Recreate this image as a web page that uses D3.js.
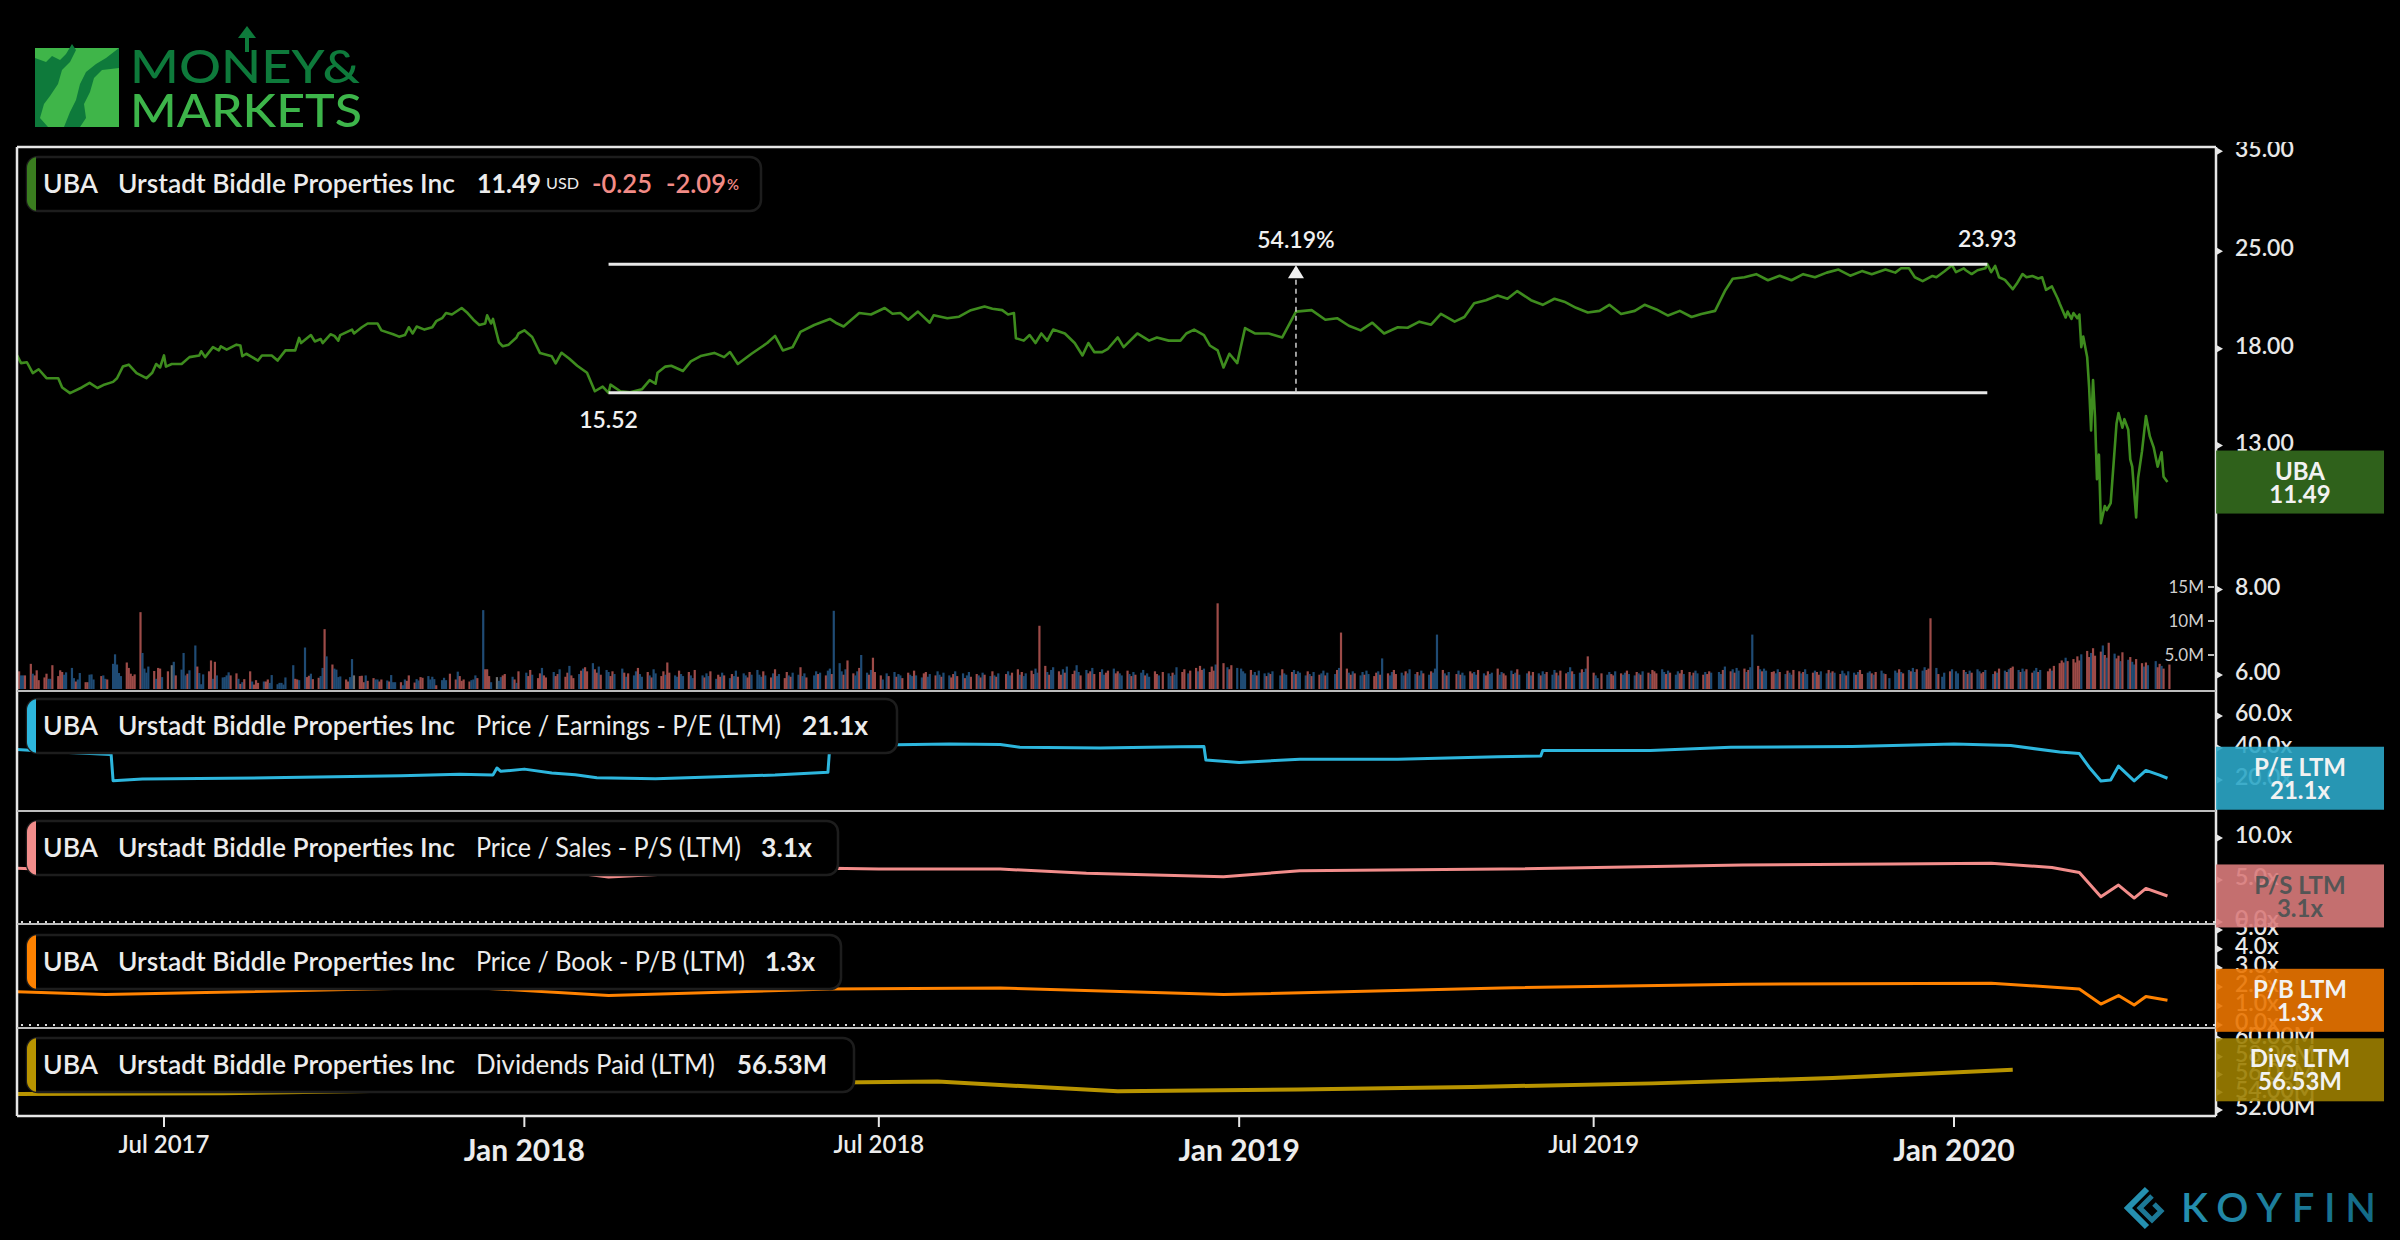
<!DOCTYPE html>
<html><head><meta charset="utf-8">
<script src="https://cdn.jsdelivr.net/npm/d3@7"></script>
<style>
html,body{margin:0;padding:0;background:#000;}
svg{display:block;}
text{font-family:Lato,"Open Sans",sans-serif;}
</style></head>
<body>
<svg id="chart" width="2400" height="1240"></svg>
<script>
// ---------------- DATA ----------------
const pricePoints = [
["2017-04-17",17.61],["2017-04-19",17.15],["2017-04-22",17.2],["2017-04-25",16.58],["2017-04-28",16.8],["2017-05-02",16.3],["2017-05-08",16.3],["2017-05-10",15.8],["2017-05-14",15.5],["2017-05-20",15.8],["2017-05-24",16.05],["2017-05-28",15.77],["2017-05-31",15.93],["2017-06-05",16.1],["2017-06-07",16.3],["2017-06-10",16.95],["2017-06-13",17.06],["2017-06-17",16.58],["2017-06-22",16.3],["2017-06-25",16.6],["2017-06-27",17.1],["2017-06-29",16.9],["2017-07-01",17.6],["2017-07-02",16.95],["2017-07-05",17.1],["2017-07-10",17.1],["2017-07-14",17.5],["2017-07-19",17.6],["2017-07-20",17.85],["2017-07-22",17.5],["2017-07-26",18.1],["2017-07-29",17.9],["2017-07-30",18.15],["2017-08-02",17.95],["2017-08-07",18.25],["2017-08-09",18.2],["2017-08-10",17.55],["2017-08-12",17.7],["2017-08-15",17.5],["2017-08-18",17.3],["2017-08-20",17.6],["2017-08-25",17.6],["2017-08-28",17.3],["2017-09-01",17.9],["2017-09-06",17.9],["2017-09-08",18.67],["2017-09-09",18.35],["2017-09-14",18.85],["2017-09-16",18.45],["2017-09-19",18.6],["2017-09-20",18.35],["2017-09-24",18.9],["2017-09-26",18.8],["2017-09-28",18.5],["2017-09-29",18.85],["2017-10-05",19.2],["2017-10-06",18.95],["2017-10-10",19.35],["2017-10-13",19.6],["2017-10-18",19.6],["2017-10-20",19.15],["2017-10-26",18.9],["2017-10-29",18.75],["2017-11-01",18.85],["2017-11-03",19.35],["2017-11-05",18.95],["2017-11-07",19.4],["2017-11-11",19.2],["2017-11-15",19.35],["2017-11-17",19.75],["2017-11-20",19.95],["2017-11-22",20.3],["2017-11-25",20.2],["2017-11-30",20.65],["2017-12-03",20.3],["2017-12-06",19.85],["2017-12-09",19.5],["2017-12-12",19.6],["2017-12-13",20.15],["2017-12-15",19.6],["2017-12-16",19.9],["2017-12-19",18.4],["2017-12-21",18.15],["2017-12-24",18.25],["2017-12-28",18.7],["2017-12-29",18.95],
["2018-01-01",19.15],["2018-01-05",18.73],["2018-01-09",17.74],["2018-01-15",17.55],["2018-01-17",17.13],["2018-01-20",17.76],["2018-01-24",17.4],["2018-01-28",17.0],["2018-02-02",16.6],["2018-02-06",15.6],["2018-02-10",15.85],["2018-02-13",15.52],["2018-02-14",15.95],["2018-02-19",15.6],["2018-02-24",15.55],["2018-03-02",15.7],["2018-03-06",16.2],["2018-03-09",16.0],["2018-03-10",16.6],["2018-03-14",16.95],["2018-03-17",17.0],["2018-03-23",16.7],["2018-03-27",17.25],["2018-04-01",17.56],["2018-04-08",17.75],["2018-04-13",17.5],["2018-04-16",17.8],["2018-04-20",17.1],["2018-04-27",17.7],["2018-05-05",18.35],["2018-05-09",18.8],["2018-05-13",17.9],["2018-05-18",18.1],["2018-05-22",19.05],["2018-05-29",19.5],["2018-06-06",19.9],["2018-06-09",19.65],["2018-06-13",19.4],["2018-06-21",20.3],["2018-06-27",20.2],["2018-07-04",20.65],["2018-07-08",20.25],["2018-07-12",20.3],["2018-07-16",19.85],["2018-07-21",20.4],["2018-07-27",19.65],["2018-07-29",20.15],["2018-08-05",19.95],["2018-08-11",20.05],["2018-08-17",20.5],["2018-08-24",20.75],["2018-08-28",20.6],["2018-09-02",20.5],["2018-09-05",20.2],["2018-09-08",20.3],["2018-09-09",18.65],["2018-09-13",18.5],["2018-09-16",18.85],["2018-09-19",18.35],["2018-09-22",18.95],["2018-09-25",18.5],["2018-09-28",19.2],["2018-10-04",18.95],["2018-10-09",18.35],["2018-10-13",17.6],["2018-10-16",18.35],["2018-10-19",17.8],["2018-10-23",17.8],["2018-10-26",18.0],["2018-10-31",18.7],["2018-11-03",18.1],["2018-11-10",18.95],["2018-11-16",18.5],["2018-11-20",18.7],["2018-11-26",18.5],["2018-12-02",18.5],["2018-12-05",18.95],["2018-12-09",19.2],["2018-12-14",18.85],["2018-12-17",18.2],["2018-12-21",17.9],["2018-12-24",16.9],["2018-12-27",17.7],["2018-12-31",17.15],
["2019-01-04",19.3],["2019-01-09",18.95],["2019-01-16",18.95],["2019-01-23",18.7],["2019-01-30",20.4],["2019-02-07",20.5],["2019-02-14",19.85],["2019-02-20",19.95],["2019-02-26",19.45],["2019-03-04",19.15],["2019-03-10",19.65],["2019-03-16",18.95],["2019-03-23",19.35],["2019-03-28",19.32],["2019-04-03",19.72],["2019-04-09",19.52],["2019-04-14",20.24],["2019-04-21",19.72],["2019-04-26",20.03],["2019-05-01",20.98],["2019-05-07",21.2],["2019-05-13",21.53],["2019-05-18",21.3],["2019-05-23",21.86],["2019-05-30",21.2],["2019-06-05",20.87],["2019-06-11",21.3],["2019-06-16",21.09],["2019-06-22",20.66],["2019-06-28",20.34],["2019-07-04",20.45],["2019-07-09",20.87],["2019-07-15",20.24],["2019-07-22",20.45],["2019-07-27",20.87],["2019-08-02",20.55],["2019-08-08",20.13],["2019-08-14",20.45],["2019-08-20",20.03],["2019-08-25",20.24],["2019-09-01",20.45],["2019-09-06",21.86],["2019-09-10",22.78],["2019-09-16",22.9],["2019-09-22",23.14],["2019-09-28",22.67],["2019-10-04",23.02],["2019-10-10",22.67],["2019-10-16",23.14],["2019-10-22",22.9],["2019-10-28",23.26],["2019-11-03",23.5],["2019-11-09",23.02],["2019-11-15",23.38],["2019-11-20",23.14],["2019-11-27",23.5],["2019-12-02",23.26],["2019-12-05",23.61],["2019-12-09",23.6],["2019-12-12",22.9],["2019-12-16",22.6],["2019-12-21",23.0],["2019-12-23",22.9],["2019-12-27",23.35],["2019-12-31",23.85],
["2020-01-02",23.3],["2020-01-06",23.6],["2020-01-07",23.45],["2020-01-10",23.15],["2020-01-13",23.45],["2020-01-17",23.6],["2020-01-18",23.93],["2020-01-20",23.3],["2020-01-22",23.8],["2020-01-24",22.9],["2020-01-27",22.7],["2020-01-31",22.0],["2020-02-02",22.4],["2020-02-05",23.15],["2020-02-07",22.9],["2020-02-10",23.0],["2020-02-13",22.8],["2020-02-15",22.9],["2020-02-17",21.95],["2020-02-20",22.2],["2020-02-23",21.3],["2020-02-24",20.95],["2020-02-27",20.0],["2020-02-28",20.4],["2020-03-01",19.9],["2020-03-02",20.3],["2020-03-04",19.95],["2020-03-05",20.2],["2020-03-06",18.1],["2020-03-07",18.75],["2020-03-09",17.5],["2020-03-10",15.8],["2020-03-11",13.67],["2020-03-12",16.2],["2020-03-13",14.3],["2020-03-14",11.6],["2020-03-15",12.6],["2020-03-16",10.0],["2020-03-18",10.6],["2020-03-19",10.45],["2020-03-21",10.7],["2020-03-24",14.0],["2020-03-25",14.5],["2020-03-27",13.8],["2020-03-28",14.2],["2020-03-30",13.7],["2020-03-31",12.4],["2020-04-01",12.1],["2020-04-03",10.2],["2020-04-04",11.65],["2020-04-06",12.75],["2020-04-08",14.35],["2020-04-10",13.4],["2020-04-12",12.9],["2020-04-14",12.1],["2020-04-16",12.7],["2020-04-17",11.7],["2020-04-19",11.49]
];

// market holidays (no volume bar)
const marketHolidays = ["2017-05-29","2017-07-04","2017-09-04","2017-11-23","2017-12-25","2018-01-01","2018-01-15","2018-02-19","2018-03-30","2018-05-28","2018-07-04","2018-09-03","2018-11-22","2018-12-05","2018-12-25","2019-01-01","2019-01-21","2019-02-18","2019-04-19","2019-05-27","2019-07-04","2019-09-02","2019-11-28","2019-12-25","2020-01-01","2020-01-20","2020-02-17","2020-04-10"];

// daily volume (millions), trading days from 2017-04-17
const volume2017 = [2.25,2.6,2.0,2.0,2.0,3.7,2.25,2.0,2.75,1.3,1.7,2.25,1.5,1.5,3.5,1.9,2.75,2.5,2.1,2.45,3.1,1.6,1.1,1.4,2.35,1.0,1.0,2.1,2.15,1.4,1.9,2.0,1.5,1.4,3.7,5.1,3.6,2.35,1.9,3.9,3.1,2.25,1.9,2.15,11.3,5.3,3.0,2.4,3.3,2.65,1.5,3.1,3.0,1.75,2.6,3.5,4.0,2.0,2.85,5.3,2.0,2.25,2.75,6.4,3.3,2.35,0.7,2.15,2.6,4.2,1.5,4.0,2.0,1.7,1.75,2.0,2.45,2.0,2.3,1.5,0.75,1.0,1.45,2.6,1.1,0.65,1.3,0.9,1.1,1.1,1.4,0.9,2.05,0.7,0.9,0.9,0.65,1.7,3.5,1.5,1.4,1.3,6.1,1.75,1.95,2.25,1.45,1.65,1.9,3.1,8.8,4.8,3.6,3.0,2.85,1.75,1.85,1.4,1.1,1.75,4.4,2.0,1.9,1.95,1.0,2.0,1.2,1.6,1.4,1.4,1.1,1.4,1.25,1.1,2.05,1.0,1.0,1.0,0.55,1.4,1.2,2.0,0.95,1.45,1.25,1.75,1.65,1.9,1.4,1.8,1.45,0.55,1.3,1.65,1.3,2.25,1.4,2.55,1.9,1.2,1.4,1.1,1.3,1.4,2.0,1.6,11.6,2.9,2.9,1.9,1.0,1.75,1.2,1.75,2.0,2.2,1.8,1.4,0.9,2.6];
const volume2018 = [2.4,1.9,2.8,2.1,1.6,2.3,3.1,2.0,1.7,2.5,1.9,2.2,2.9,1.8,2.4,3.4,2.0,1.6,2.2,2.7,3.0,
3.2,2.6,3.8,2.9,2.4,3.3,2.1,2.8,2.5,1.9,2.6,2.2,3.0,2.4,1.8,2.3,2.0,2.6,3.1,
2.2,1.8,2.5,2.0,1.7,2.9,2.3,1.9,2.6,2.1,3.9,2.4,2.0,1.8,2.7,2.2,1.9,2.5,2.0,1.6,2.8,
2.0,1.7,2.3,1.9,2.6,1.5,2.1,1.8,2.4,2.0,1.6,2.2,1.9,2.7,1.8,2.3,2.0,1.7,2.5,2.1,2.8,
2.1,1.8,2.6,2.0,1.7,2.3,2.9,1.9,2.2,1.6,2.5,2.0,1.8,2.4,2.1,3.2,1.9,2.3,1.7,2.0,2.6,2.2,
2.4,2.0,2.7,3.0,2.2,11.5,3.8,2.6,2.1,2.9,4.2,2.3,2.0,2.6,3.1,5.0,2.4,2.1,2.8,4.6,2.5,
2.0,1.4,2.3,1.9,2.5,1.8,2.2,2.0,1.6,2.4,2.1,1.9,2.7,2.0,1.7,2.3,2.5,1.8,2.2,2.0,2.6,
2.1,1.8,2.4,2.0,1.7,2.2,2.6,1.9,2.3,1.6,2.0,2.5,1.8,2.2,2.0,1.7,2.4,2.1,1.9,2.6,2.0,1.8,2.3,
2.2,2.6,2.0,2.4,2.9,2.1,2.5,1.9,2.3,2.7,2.2,3.0,2.4,9.3,3.4,2.5,2.1,2.8,3.2,
2.6,2.1,2.9,2.4,3.3,2.2,2.7,3.5,2.5,2.0,2.8,2.3,2.6,3.1,2.2,2.5,2.9,2.1,2.4,2.7,3.0,2.3,2.6,
2.3,2.0,2.7,2.2,1.9,2.5,2.1,2.4,2.8,2.0,2.3,1.8,2.6,2.2,2.0,2.5,2.3,1.9,2.4,2.1,3.2,
2.5,2.9,2.3,2.7,3.1,2.6,3.4,2.8,3.0,2.5,3.3,2.7,3.6,12.6,3.8,3.2,2.9,3.5,3.1];
const volume2019 = [3.0,2.6,2.3,2.8,2.1,2.5,2.0,2.7,2.3,1.9,2.4,2.2,2.6,2.0,2.9,2.3,2.1,2.5,2.8,2.2,2.6,
2.4,2.0,2.6,2.2,1.9,2.5,2.1,2.3,2.7,2.0,2.4,2.2,2.8,3.1,8.3,3.0,2.4,2.1,2.6,
2.3,2.0,2.5,2.1,2.7,2.2,1.9,2.4,2.6,2.1,4.5,2.3,2.0,2.5,2.8,2.2,2.4,2.0,2.6,2.3,2.9,
2.2,2.5,2.0,2.7,2.3,2.1,2.6,2.4,3.0,8.0,2.8,2.3,2.0,2.5,2.2,2.7,2.1,2.4,2.0,2.6,2.3,
2.5,2.1,2.8,2.3,2.0,2.6,2.2,2.4,3.0,2.1,2.5,2.3,2.0,2.7,2.2,2.4,2.9,2.1,2.3,2.6,2.0,2.5,
2.3,2.0,2.6,2.2,2.5,2.1,2.8,2.4,2.0,2.7,2.3,2.5,3.2,2.6,2.2,2.4,2.9,2.5,3.0,4.8,
2.4,2.0,1.6,2.3,2.1,2.5,2.2,2.0,2.6,2.3,2.1,2.4,2.7,2.2,2.0,2.5,2.3,2.1,2.6,2.4,2.2,2.8,
2.6,2.3,2.9,2.5,2.2,2.7,2.4,2.1,2.6,2.3,2.8,2.2,2.5,2.0,2.4,2.7,2.3,2.1,2.5,2.2,2.6,2.4,
2.5,2.2,2.8,3.3,2.6,2.9,2.4,3.1,2.7,3.0,2.5,2.8,3.2,8.0,3.4,2.9,2.6,3.0,2.7,2.5,
2.6,2.3,2.9,2.5,2.2,2.7,2.4,2.1,2.8,2.6,2.3,2.5,2.9,2.2,2.4,2.7,2.5,2.1,2.6,2.3,2.8,2.4,2.6,
2.4,2.2,2.7,2.3,2.0,2.6,2.4,2.1,2.5,2.8,2.2,2.4,2.6,2.3,2.1,2.5,2.7,2.3,2.2,1.6,
2.7,2.4,2.9,2.5,2.3,2.8,2.6,3.1,2.5,2.9,2.7,3.2,2.8,3.0,10.4,3.1,2.2,1.8,2.4,2.6,2.9];
const volume2020 = [2.6,2.3,2.8,2.5,2.2,2.7,2.4,2.9,2.6,2.3,2.5,2.8,2.2,2.6,2.4,3.0,2.7,2.5,2.9,3.1,3.3,
2.8,2.5,3.0,2.6,2.9,2.4,2.7,3.1,2.5,2.8,2.6,3.0,2.7,3.4,3.8,4.2,3.9,4.6,4.1,
4.4,3.9,4.8,4.2,5.1,5.6,4.7,5.3,6.0,4.9,5.5,6.4,5.0,4.6,6.8,5.2,4.5,4.9,4.1,5.4,4.3,4.7,
4.0,3.6,4.4,3.8,3.3,3.9,3.5,4.1,3.2,3.7,3.4,3.0,3.6];
// u = up day, d = down day, n = unchanged
const direction2017 = "dduudd uddddduu dddduuuu duudduuu duuduuuuu dddddd uuuud uddud nuduu uduudu uuddud uuuuuddu dudduddd udduuuuuuu udduudd udduud uduuuu dduun dddudd uuddud uuuduu ddduudd uuuuduuu ddudddd uuudu dddunuud dudud";
const direction2018 = "uddud duddu ddudd uddud u ddudd uduud duudu duud uudud uuddu dduud uuduu d uduud uddud uduud uuddu u uudud uduud duduu duudu ud uduud uuudu dduud uudud d duudu duudd uuduu dduud u uduud dudud uuddu dudud udu duudd uduud duudd uduu ddudu dduud uddud duudd udd uudud uduud uuddu duudu u ddudd uddud ddudd uddu";
const direction2019 = "uuudu uduud uduud uudud u uudud uduud uudud dudu duudu uddud uduud duudu u uduud uduuu dudud uduud d uudud duudu uddud uduud ud uduud uudud duudu uduud duudu uddud uuduu dudud ud dduud uduud dudud uudud du uudud uduud uduud uduud duudu duudd uduud udduu dud uduud uudud duudu duudu uudud uduud uuddd uduud u";
const direction2020 = "uudud uduud duudu dudud d uduud duudu ddudd ddud ddddu ddudd dudud uddud ud uuddu duudd udd";

const peSeries = [["2017-04-17",39.0],["2017-05-08",37.5],["2017-06-04",36.0],["2017-06-05",19.6],["2017-06-20",20.6],["2017-09-01",21.5],["2017-10-30",22.7],["2017-11-29",23.6],["2017-12-16",23.2],["2017-12-18",27.5],["2017-12-20",25.4],["2018-01-01",26.8],["2018-01-15",24.4],["2018-01-27",23.3],["2018-02-07",21.4],["2018-03-09",20.8],["2018-04-10",22.1],["2018-05-09",23.1],["2018-06-05",24.8],["2018-06-06",41.5],["2018-07-01",41.8],["2018-08-06",42.5],["2018-09-01",42.2],["2018-09-11",40.5],["2018-10-22",40.0],["2018-12-02",40.8],["2018-12-14",41.0],["2018-12-15",32.5],["2019-01-01",31.0],["2019-02-01",33.0],["2019-03-23",33.0],["2019-05-13",34.5],["2019-06-04",35.0],["2019-06-05",38.5],["2019-07-30",38.5],["2019-09-09",40.5],["2019-11-10",41.0],["2020-01-01",42.5],["2020-01-30",41.5],["2020-02-24",37.5],["2020-03-05",36.5],["2020-03-10",28],["2020-03-16",19.4],["2020-03-21",20],["2020-03-25",28.7],["2020-04-02",19.4],["2020-04-08",26],["2020-04-15",23],["2020-04-19",21.1]];
const psSeries = [["2017-04-17",6.4],["2017-06-01",6.0],["2017-09-01",6.3],["2017-12-01",6.9],["2018-01-01",6.6],["2018-02-13",5.35],["2018-03-15",5.7],["2018-06-06",6.4],["2018-07-01",6.3],["2018-09-01",6.3],["2018-10-15",5.8],["2018-12-24",5.4],["2019-02-01",6.1],["2019-05-15",6.3],["2019-09-15",6.8],["2019-12-01",6.9],["2020-01-20",7.0],["2020-02-20",6.5],["2020-03-05",5.9],["2020-03-16",3.0],["2020-03-25",4.4],["2020-04-02",2.85],["2020-04-08",4.0],["2020-04-19",3.1]];
const pbSeries = [["2017-04-17",1.75],["2017-06-01",1.6],["2017-12-01",2.0],["2018-02-13",1.55],["2018-06-06",1.9],["2018-09-01",1.95],["2018-12-24",1.6],["2019-05-15",1.95],["2019-09-15",2.15],["2020-01-20",2.2],["2020-03-05",1.9],["2020-03-16",1.1],["2020-03-25",1.55],["2020-04-02",1.05],["2020-04-08",1.5],["2020-04-19",1.3]];
const divSeries = [["2017-04-17",53.8],["2017-07-31",53.9],["2017-10-31",54.2],["2018-01-31",54.6],["2018-04-30",55.0],["2018-07-31",55.2],["2018-10-31",54.1],["2019-01-31",54.3],["2019-04-30",54.6],["2019-07-31",55.0],["2019-10-31",55.6],["2020-01-31",56.53]];

const xTickDates = ["2017-07-01","2018-01-01","2018-07-01","2019-01-01","2019-07-01","2020-01-01"];
const xTickLabels = ["Jul 2017","Jan 2018","Jul 2018","Jan 2019","Jul 2019","Jan 2020"];
const priceTicks = [6,8,13,18,25,35];
const volumeTicks = [5,10,15];
const volumeTickLabels = ["5.0M","10M","15M"];
const peTicks = [20,40,60];
const psTicks = [0,5,10];
const pbTicks = [0,1,2,3,4,5];
const divTicks = [52,54,56,58,60];

const rangeLow = {date:"2018-02-13", value:15.52};
const rangeHigh = {date:"2020-01-18", value:23.93};
const rangeChangeLabel = "54.19%";
const rangeMidDate = "2019-01-30";

// ---------------- LAYOUT ----------------
const W=2400,H=1240;
const L=17, R=2216, TOP=147, BOT=1116;
const panes = {price:[147,691], pe:[691,811], ps:[811,924], pb:[924,1028], div:[1028,1116]};
const parse = d3.timeParse("%Y-%m-%d");
const fmtDay = d3.timeFormat("%Y-%m-%d");

const svg = d3.select("#chart");
svg.append("rect").attr("width",W).attr("height",H).attr("fill","#000");
const defs = svg.append("defs");

const x = d3.scaleTime().domain([parse("2017-07-01"),parse("2020-01-01")]).range([164,1954]);
const yPrice = d3.scaleLog().domain([5.685,35.51]).range([691,147]);
const yVol = d3.scaleLinear().domain([0,15]).range([689,587]);
const yPE = d3.scaleLinear().domain([0,60]).range([812,716]);
const yPS = d3.scaleLinear().domain([0,10]).range([922,838]);
const yPB = d3.scaleLinear().domain([0,5]).range([1025,930]);
const yDiv = d3.scaleLinear().domain([52,60]).range([1110,1039]);

Object.entries(panes).forEach(([k,[a,b]])=>{
  defs.append("clipPath").attr("id","clip-"+k).append("rect").attr("x",L).attr("y",a).attr("width",R-L).attr("height",b-a);
});
defs.append("clipPath").attr("id","clip-axis").append("rect").attr("x",R).attr("y",142).attr("width",W-R).attr("height",H-142);

// ---------------- VOLUME ----------------
const holidaySet = new Set(marketHolidays);
const tradingDays = d3.timeDay.range(parse("2017-04-17"), parse("2020-04-21"))
  .filter(d=>d.getDay()!==0 && d.getDay()!==6 && !holidaySet.has(fmtDay(d)));
const volumeValues = [...volume2017,...volume2018,...volume2019,...volume2020];
const volumeDirection = (direction2017+direction2018+direction2019+direction2020).replace(/\s/g,"");
const volColor = {u:"#1f4b74", d:"#9d4b48", n:"#6d6d6d"};
svg.append("g").attr("clip-path","url(#clip-price)").selectAll("rect").data(volumeValues.slice(0,tradingDays.length)).join("rect")
  .attr("x",(v,i)=>x(tradingDays[i])-1.1).attr("width",2.2)
  .attr("y",v=>yVol(v)).attr("height",v=>yVol(0)-yVol(v))
  .attr("fill",(v,i)=>volColor[volumeDirection[i]]||volColor.n);

// ---------------- LINES ----------------
function drawLine(data, yS, color, width, clip){
  svg.append("path").datum(data.map(d=>[parse(d[0]),d[1]]))
    .attr("clip-path","url(#clip-"+clip+")")
    .attr("fill","none").attr("stroke",color).attr("stroke-width",width).attr("stroke-linejoin","round")
    .attr("d", d3.line().x(d=>x(d[0])).y(d=>yS(d[1])));
}
drawLine(pricePoints, yPrice, "#3e8c1e", 2.6, "price");
drawLine(peSeries, yPE, "#2db6dd", 3, "pe");
drawLine(psSeries, yPS, "#f28d8b", 3, "ps");
drawLine(pbSeries, yPB, "#ff8200", 3, "pb");
drawLine(divSeries, yDiv, "#b89400", 4, "div");

// ---------------- RANGE ANNOTATION ----------------
const xLo = x(parse(rangeLow.date)), xHi = x(parse(rangeHigh.date));
const yLo = yPrice(rangeLow.value), yHi = yPrice(rangeHigh.value);
svg.append("line").attr("x1",xLo).attr("x2",xHi).attr("y1",yHi).attr("y2",yHi).attr("stroke","#e8e8e8").attr("stroke-width",3);
svg.append("line").attr("x1",xLo).attr("x2",xHi).attr("y1",yLo).attr("y2",yLo).attr("stroke","#e8e8e8").attr("stroke-width",3);
const xMid = x(parse(rangeMidDate));
svg.append("line").attr("x1",xMid).attr("x2",xMid).attr("y1",yLo).attr("y2",yHi+14).attr("stroke","#cfcfcf").attr("stroke-width",1.5).attr("stroke-dasharray","5,4");
svg.append("path").attr("d",`M${xMid},${yHi+1} L${xMid+8},${yHi+14} L${xMid-8},${yHi+14} Z`).attr("fill","#f0f0f0");
svg.append("text").attr("x",xMid).attr("y",yHi-24).attr("text-anchor","middle").attr("dy","0.35em").attr("fill","#f0f0f0").attr("font-size",23).attr("font-weight",600).text(rangeChangeLabel);
svg.append("text").attr("x",xLo).attr("y",yLo+27).attr("text-anchor","middle").attr("dy","0.35em").attr("fill","#f0f0f0").attr("font-size",23).attr("font-weight",600).text(rangeLow.value.toFixed(2));
svg.append("text").attr("x",xHi).attr("y",yHi-25).attr("text-anchor","middle").attr("dy","0.35em").attr("fill","#f0f0f0").attr("font-size",23).attr("font-weight",600).text(rangeHigh.value.toFixed(2));

// ---------------- FRAME ----------------
const frame = svg.append("g");
frame.append("line").attr("x1",L).attr("x2",R).attr("y1",TOP).attr("y2",TOP).attr("stroke","#e6e6e6").attr("stroke-width",2.5);
frame.append("line").attr("x1",L).attr("x2",L).attr("y1",TOP).attr("y2",BOT).attr("stroke","#e6e6e6").attr("stroke-width",2.5);
frame.append("line").attr("x1",L).attr("x2",R).attr("y1",BOT).attr("y2",BOT).attr("stroke","#e6e6e6").attr("stroke-width",2.5);
frame.append("line").attr("x1",R).attr("x2",R).attr("y1",TOP).attr("y2",BOT).attr("stroke","#e6e6e6").attr("stroke-width",2.5);
[691,811,924,1028].forEach(y=>frame.append("line").attr("x1",L).attr("x2",R).attr("y1",y).attr("y2",y).attr("stroke","#bdbdbd").attr("stroke-width",2));
[yPS(0),yPB(0)].forEach(y=>frame.append("line").attr("x1",L+4).attr("x2",R).attr("y1",y).attr("y2",y).attr("stroke","#d8d8d8").attr("stroke-width",2).attr("stroke-dasharray","2,6"));

// ---------------- TITLE BOXES ----------------
function titleBox(idx, top, right, accent, parts){
  const g = svg.append("g");
  const cid = "tb"+idx;
  defs.append("clipPath").attr("id",cid).append("rect").attr("x",27).attr("y",top).attr("width",right-27).attr("height",54).attr("rx",11);
  g.append("rect").attr("x",27).attr("y",top).attr("width",right-27).attr("height",54).attr("rx",11).attr("fill","#000").attr("stroke","#1d1d1d").attr("stroke-width",2.5);
  g.append("rect").attr("clip-path",`url(#${cid})`).attr("x",27).attr("y",top).attr("width",9).attr("height",54).attr("fill",accent);
  const cy = top+27;
  parts.forEach(p=>{
    const t = g.append("text").attr("x",p.x).attr("y",cy).attr("dy","0.36em").attr("fill",p.color||"#ececec")
      .attr("font-size",p.size||26).attr("font-weight",p.weight||400).text(p.t);
    if(p.w) t.attr("textLength",p.w).attr("lengthAdjust","spacingAndGlyphs");
  });
}
const baseParts = [{x:43,t:"UBA",weight:600,w:55},{x:118,t:"Urstadt Biddle Properties Inc",weight:600,w:337}];
titleBox(0,157,761,"#3a7d1f",[...baseParts,
  {x:477,t:"11.49",weight:700,w:64},{x:546,t:"USD",size:15,w:33},
  {x:592,t:"-0.25",weight:600,color:"#f28b86",w:60},{x:666,t:"-2.09",weight:600,color:"#f28b86",w:60},{x:727,t:"%",size:16,weight:600,color:"#f28b86",w:12}]);
titleBox(1,699,897,"#2db6dd",[...baseParts,{x:476,t:"Price / Earnings - P/E (LTM)",w:305},{x:802,t:"21.1x",weight:700,w:66}]);
titleBox(2,821,838,"#f28d8b",[...baseParts,{x:476,t:"Price / Sales - P/S (LTM)",w:265},{x:761,t:"3.1x",weight:700,w:51}]);
titleBox(3,935,841,"#ff8200",[...baseParts,{x:476,t:"Price / Book - P/B (LTM)",w:269},{x:765,t:"1.3x",weight:700,w:50}]);
titleBox(4,1038,854,"#b89400",[...baseParts,{x:476,t:"Dividends Paid (LTM)",w:239},{x:737,t:"56.53M",weight:700,w:90}]);

// ---------------- RIGHT AXES ----------------
const ax = svg.append("g").attr("clip-path","url(#clip-axis)");
function axisTicks(ticks, yS, fmt){
  ticks.forEach(v=>{
    const y=yS(v);
    ax.append("path").attr("d",`M${R},${y-4} L${R+7},${y} L${R},${y+4} Z`).attr("fill","#e6e6e6");
    ax.append("text").attr("x",2235).attr("y",y-3).attr("dy","0.36em").attr("fill","#e8e8e8").attr("font-size",23).attr("font-weight",600).text(fmt(v));
  });
}
axisTicks(priceTicks,yPrice,v=>v.toFixed(2));
axisTicks(peTicks,yPE,v=>v.toFixed(1)+"x");
axisTicks(psTicks,yPS,v=>v.toFixed(1)+"x");
axisTicks(pbTicks,yPB,v=>v.toFixed(1)+"x");
axisTicks(divTicks,yDiv,v=>v.toFixed(2)+"M");
const vax = svg.append("g");
volumeTicks.forEach((v,i)=>{
  const y=yVol(v);
  vax.append("line").attr("x1",R-8).attr("x2",R-2).attr("y1",y).attr("y2",y).attr("stroke","#bbb").attr("stroke-width",2);
  vax.append("text").attr("x",R-12).attr("y",y).attr("dy","0.36em").attr("text-anchor","end").attr("fill","#cfcfcf").attr("font-size",17).text(volumeTickLabels[i]);
});

function badge(val, yS, color, l1, l2, tcol){
  const cy = yS(val);
  const g = svg.append("g");
  g.append("rect").attr("x",R).attr("y",cy-31.5).attr("width",168).attr("height",63).attr("fill",color).attr("fill-opacity",0.9);
  g.append("text").attr("x",R+84).attr("y",cy-11).attr("dy","0.36em").attr("text-anchor","middle").attr("fill",tcol).attr("font-size",24).attr("font-weight",700).text(l1);
  g.append("text").attr("x",R+84).attr("y",cy+12).attr("dy","0.36em").attr("text-anchor","middle").attr("fill",tcol).attr("font-size",24).attr("font-weight",700).text(l2);
}
badge(11.49,yPrice,"#346b1e","UBA","11.49","#f2f2f2");
badge(21.1,yPE,"#2ba6c7","P/E LTM","21.1x","#f2f2f2");
badge(3.1,yPS,"#d97b7b","P/S LTM","3.1x","#555");
badge(1.3,yPB,"#ea7400","P/B LTM","1.3x","#f2f2f2");
badge(56.53,yDiv,"#9c7e00","Divs LTM","56.53M","#f2f2f2");

// ---------------- X AXIS ----------------
xTickDates.forEach((d,i)=>{
  const xx = x(parse(d));
  const isJan = xTickLabels[i].startsWith("Jan");
  svg.append("line").attr("x1",xx).attr("x2",xx).attr("y1",BOT).attr("y2",BOT+11).attr("stroke","#e6e6e6").attr("stroke-width",2);
  svg.append("text").attr("x",xx).attr("y",isJan?1150:1144).attr("dy","0.36em").attr("text-anchor","middle")
    .attr("fill","#ececec").attr("font-size",isJan?30:24).attr("font-weight",isJan?700:600).text(xTickLabels[i]);
});

// ---------------- LOGOS ----------------
const logo = svg.append("g");
logo.append("rect").attr("x",35).attr("y",48).attr("width",84).attr("height",79).attr("fill","#3fb549");
logo.append("path").attr("d","M35,58 L46,62 L52,56 L60,60 L66,54 L72,44 L76,50 L70,62 L62,70 L58,84 L50,96 L44,104 L40,118 L48,127 L35,127 Z").attr("fill","#0e7a3b");
logo.append("path").attr("d","M119,48 L119,68 L102,70 L94,78 L90,92 L84,104 L86,118 L80,127 L64,127 L70,112 L76,100 L80,84 L86,72 L96,64 L106,58 Z").attr("fill","#0e7a3b");
logo.append("text").attr("x",130).attr("y",83).attr("fill","#0e7a3b").attr("font-size",47).attr("font-weight",500).attr("textLength",230).attr("lengthAdjust","spacingAndGlyphs").text("MONEY&");
logo.append("text").attr("x",130).attr("y",127).attr("fill","#3db54a").attr("font-size",47).attr("font-weight",500).attr("textLength",232).attr("lengthAdjust","spacingAndGlyphs").text("MARKETS");
logo.append("line").attr("x1",247).attr("x2",247).attr("y1",52).attr("y2",34).attr("stroke","#0e7a3b").attr("stroke-width",4);
logo.append("path").attr("d","M238,38 L247,26 L256,38 Z").attr("fill","#0e7a3b");

const kg = svg.append("g");
const grad = defs.append("linearGradient").attr("id","kgrad").attr("x1","0").attr("x2","1");
grad.append("stop").attr("offset","0").attr("stop-color","#2590b0");
grad.append("stop").attr("offset","1").attr("stop-color","#136a86");
kg.append("path").attr("d","M2147,1189 L2128,1208 L2147,1227").attr("fill","none").attr("stroke","#2590b0").attr("stroke-width",6);
kg.append("path").attr("d","M2152,1196 L2140,1208 L2152,1220 L2161,1211 L2154,1204").attr("fill","none").attr("stroke","#1c7896").attr("stroke-width",5);
kg.append("text").attr("x",2181).attr("y",1208).attr("dy","0.36em").attr("fill","url(#kgrad)").attr("font-size",40).attr("font-weight",600)
  .attr("textLength",195).attr("lengthAdjust","spacing").text("KOYFIN");
</script>
</body></html>
